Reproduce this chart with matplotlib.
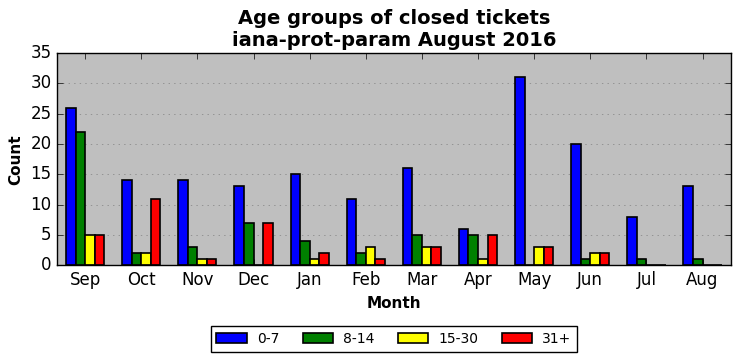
import numpy as np
import matplotlib
matplotlib.use("Agg")
import matplotlib.pyplot as plt

plt.style.use('classic')

months = ['Sep', 'Oct', 'Nov', 'Dec', 'Jan', 'Feb', 'Mar', 'Apr', 'May', 'Jun', 'Jul', 'Aug']
age_0_7 = [26, 14, 14, 13, 15, 11, 16, 6, 31, 20, 8, 13]
age_8_14 = [22, 2, 3, 7, 4, 2, 5, 5, 0, 1, 1, 1]
age_15_30 = [5, 2, 1, 0, 1, 3, 3, 1, 3, 2, 0, 0]
age_31_plus = [5, 11, 1, 7, 2, 1, 3, 5, 3, 2, 0, 0]

series = [(age_0_7, 'blue', '0-7'),
          (age_8_14, 'green', '8-14'),
          (age_15_30, 'yellow', '15-30'),
          (age_31_plus, 'red', '31+')]

fig = plt.figure(figsize=(7.41, 3.61), dpi=100)
fig.patch.set_facecolor('white')
ax = fig.add_axes([0.077, 0.265, 0.909, 0.588])
ax.set_facecolor('#bfbfbf')

ind = np.arange(len(months))
width = 0.17
for k, (vals, col, lab) in enumerate(series):
    ax.bar(ind + (k - 1.5) * width, vals, width, color=col, edgecolor='black',
           linewidth=1.2, label=lab, align='center')

ax.set_xlim(-0.5, len(months) - 0.5)
ax.set_ylim(0, 35)
ax.set_xticks(ind)
ax.set_xticklabels(months)
ax.yaxis.grid(True, linestyle=':', color='#808080')
ax.set_axisbelow(True)
ax.tick_params(labelsize=12)

ax.set_title('Age groups of closed tickets\niana-prot-param August 2016',
             fontsize=14, fontweight='bold')
ax.set_xlabel('Month', fontsize=11, fontweight='bold')
ax.set_ylabel('Count', fontsize=11, fontweight='bold')

ax.legend(loc='upper center', bbox_to_anchor=(0.5, -0.255), ncol=4,
          fontsize=10, frameon=True, handlelength=2.2, handletextpad=0.7,
          columnspacing=1.7)

fig.savefig('out.png', dpi=100, facecolor='white')
